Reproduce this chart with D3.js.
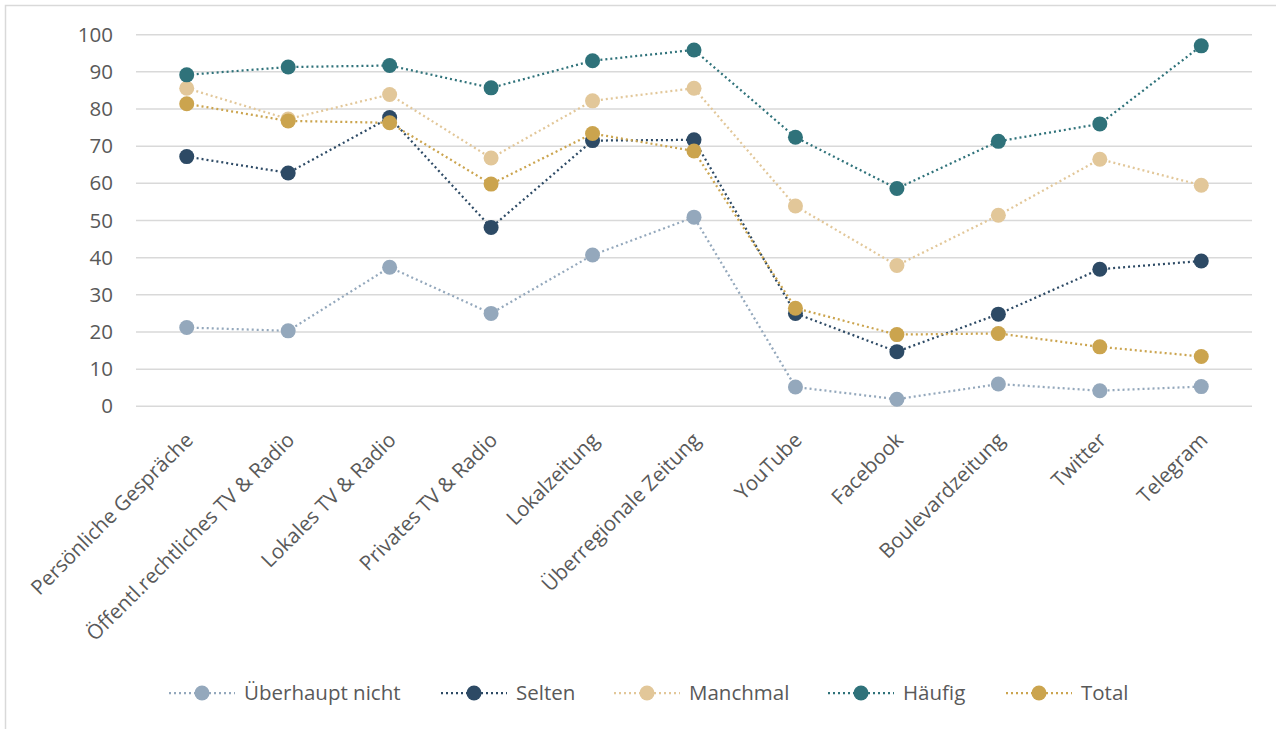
<!DOCTYPE html>
<html>
<head>
<meta charset="utf-8">
<script src="https://cdn.jsdelivr.net/npm/d3@7"></script>
<style>
  html, body { margin: 0; padding: 0; background: #fff; }
  svg { display: block; font-family: "Open Sans", sans-serif; }
</style>
</head>
<body>
<svg id="chart" width="1276" height="729"></svg>
<script>
const categories = ["Persönliche Gespräche", "Öffentl.rechtliches TV & Radio", "Lokales TV & Radio", "Privates TV & Radio", "Lokalzeitung", "Überregionale Zeitung", "YouTube", "Facebook", "Boulevardzeitung", "Twitter", "Telegram"];
const ueberhauptNicht = [21.2, 20.3, 37.4, 25.0, 40.7, 50.9, 5.2, 1.9, 6.0, 4.2, 5.3];
const selten = [67.2, 62.8, 77.7, 48.1, 71.5, 71.7, 25.0, 14.7, 24.8, 36.9, 39.1];
const manchmal = [85.6, 77.3, 83.9, 66.8, 82.2, 85.6, 53.9, 37.9, 51.4, 66.5, 59.5];
const haeufig = [89.2, 91.3, 91.7, 85.7, 93.0, 95.9, 72.4, 58.6, 71.3, 76.0, 97.0];
const total = [81.4, 76.8, 76.3, 59.8, 73.4, 68.7, 26.4, 19.3, 19.6, 16.0, 13.4];
const seriesNames = ["Überhaupt nicht", "Selten", "Manchmal", "Häufig", "Total"];
const seriesColors = ["#94a8bc", "#2d4a65", "#e2c799", "#2f727a", "#cba44e"];
const yTicks = [0, 10, 20, 30, 40, 50, 60, 70, 80, 90, 100];

(function () {
const series = [ueberhauptNicht, selten, manchmal, haeufig, total].map((vals, i) => ({
  name: seriesNames[i], color: seriesColors[i], values: vals
}));

const svg = d3.select("#chart");
const pLeft = 136, pRight = 1252, pTop = 34.7, pBottom = 406.3;

// outer border
svg.append("path").attr("d", "M5.5,740 V5.5 H1290").attr("fill", "none")
  .attr("stroke", "#d9d9d9").attr("stroke-width", 1.5);

const x = d3.scalePoint().domain(categories).range([pLeft, pRight]).padding(0.5);
const y = d3.scaleLinear().domain([0, 100]).range([pBottom, pTop]);

// gridlines
svg.append("g").selectAll("line").data(yTicks).join("line")
  .attr("x1", pLeft).attr("x2", pRight)
  .attr("y1", d => y(d)).attr("y2", d => y(d))
  .attr("stroke", "#d9d9d9").attr("stroke-width", 1.5);

// y axis
const yAxis = svg.append("g").attr("transform", `translate(${pLeft - 23},0)`)
  .call(d3.axisLeft(y).tickValues(yTicks).tickSize(0).tickPadding(0));
yAxis.select(".domain").remove();
yAxis.selectAll("text").attr("font-size", 20.5).attr("fill", "#595959")
  .attr("font-family", "Open Sans, sans-serif");

// x axis labels
const xAxis = svg.append("g").attr("transform", `translate(0,${pBottom})`)
  .call(d3.axisBottom(x).tickSize(0).tickPadding(0));
xAxis.select(".domain").remove();
xAxis.selectAll("text")
  .attr("font-size", 20.5).attr("fill", "#595959")
  .attr("font-family", "Open Sans, sans-serif")
  .attr("text-anchor", "end")
  .attr("dy", "0.35em")
  .attr("transform", "translate(2,30) rotate(-45)");

// lines
const line = d3.line().x((d, i) => x(categories[i])).y(d => y(d));
svg.append("g").selectAll("path").data(series).join("path")
  .attr("d", d => line(d.values))
  .attr("fill", "none").attr("stroke", d => d.color)
  .attr("stroke-width", 2.25).attr("stroke-dasharray", "2,3");

// markers
svg.append("g").selectAll("g").data(series).join("g")
  .attr("fill", d => d.color)
  .selectAll("circle").data(d => d.values).join("circle")
  .attr("cx", (d, i) => x(categories[i])).attr("cy", d => y(d)).attr("r", 7.5);

// legend
const legendX = [202, 474, 647, 861, 1039];
const ly = 693;
const lg = svg.append("g").selectAll("g").data(series).join("g")
  .attr("transform", (d, i) => `translate(${legendX[i]},${ly})`);
lg.append("line").attr("x1", -33).attr("x2", 33).attr("y1", 0).attr("y2", 0)
  .attr("stroke", d => d.color).attr("stroke-width", 2.25).attr("stroke-dasharray", "2,3");
lg.append("circle").attr("r", 7.5).attr("fill", d => d.color);
lg.append("text").attr("x", 42).attr("y", 0).attr("dy", "0.35em")
  .attr("font-size", 20.5).attr("fill", "#595959").text(d => d.name);
})();
</script>
</body>
</html>
